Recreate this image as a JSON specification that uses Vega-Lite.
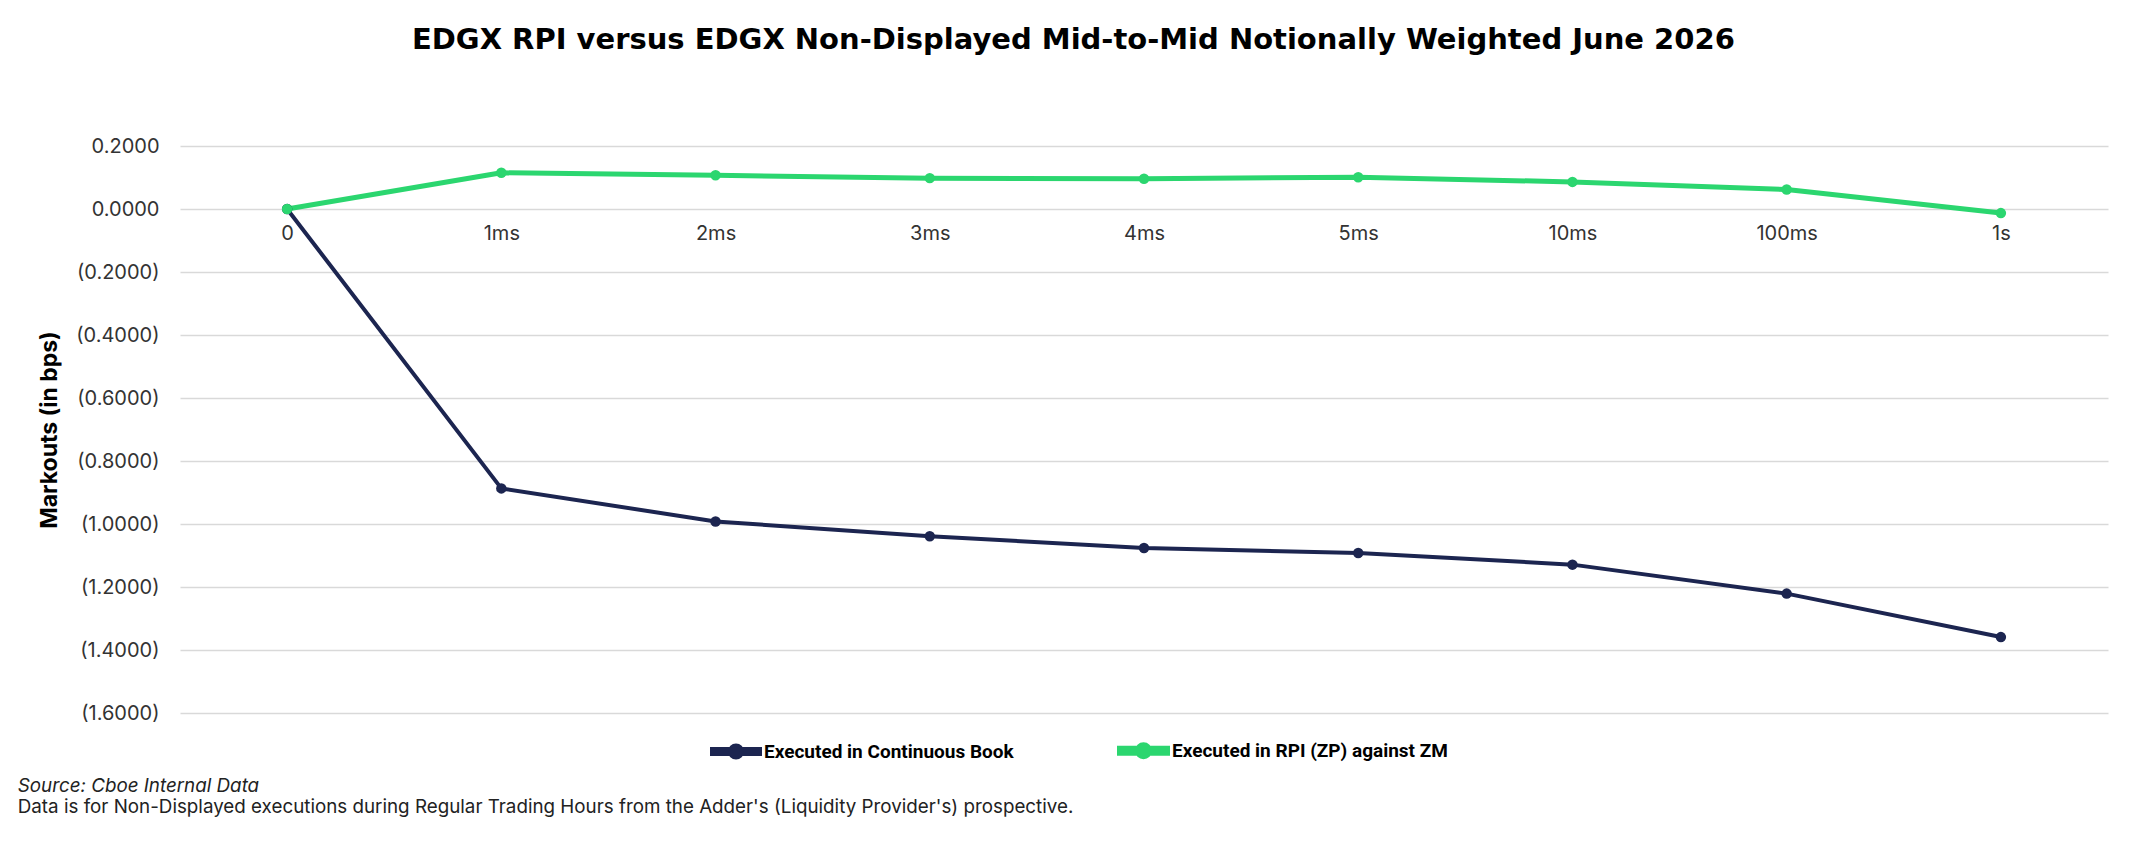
{
  "$schema": "https://vega.github.io/schema/vega-lite/v6.json",
  "background": "white",
  "padding": {"left": 17, "top": 26, "right": 36, "bottom": 28},
  "title": {
    "text": "Source: Cboe Internal Data",
    "subtitle": "Data is for Non-Displayed executions during Regular Trading Hours from the Adder's (Liquidity Provider's) prospective.",
    "orient": "bottom",
    "anchor": "start",
    "frame": "bounds",
    "dx": -21,
    "offset": 10,
    "font": "Inter",
    "fontSize": 18.8,
    "fontStyle": "italic",
    "fontWeight": "normal",
    "color": "#222222",
    "subtitleFont": "Inter",
    "subtitleFontSize": 18.8,
    "subtitleColor": "#222222",
    "subtitlePadding": 2
  },
  "vconcat": [
    {
      "title": {
        "text": "EDGX RPI versus EDGX Non-Displayed Mid-to-Mid Notionally Weighted June 2026",
        "anchor": "middle",
        "frame": "bounds",
        "font": "DejaVu Sans",
        "fontSize": 29,
        "fontWeight": "bold",
        "color": "#000000",
        "offset": 81
      },
      "width": 1928,
      "height": 567,
      "data": {
        "values": [
          {"t": "0", "series": "Executed in Continuous Book", "v": 0},
          {"t": "1ms", "series": "Executed in Continuous Book", "v": -0.887},
          {"t": "2ms", "series": "Executed in Continuous Book", "v": -0.992},
          {"t": "3ms", "series": "Executed in Continuous Book", "v": -1.039},
          {"t": "4ms", "series": "Executed in Continuous Book", "v": -1.076},
          {"t": "5ms", "series": "Executed in Continuous Book", "v": -1.092},
          {"t": "10ms", "series": "Executed in Continuous Book", "v": -1.129},
          {"t": "100ms", "series": "Executed in Continuous Book", "v": -1.221},
          {"t": "1s", "series": "Executed in Continuous Book", "v": -1.359},
          {"t": "0", "series": "Executed in RPI (ZP) against ZM", "v": 0},
          {"t": "1ms", "series": "Executed in RPI (ZP) against ZM", "v": 0.115},
          {"t": "2ms", "series": "Executed in RPI (ZP) against ZM", "v": 0.107},
          {"t": "3ms", "series": "Executed in RPI (ZP) against ZM", "v": 0.098},
          {"t": "4ms", "series": "Executed in RPI (ZP) against ZM", "v": 0.096},
          {"t": "5ms", "series": "Executed in RPI (ZP) against ZM", "v": 0.101},
          {"t": "10ms", "series": "Executed in RPI (ZP) against ZM", "v": 0.086},
          {"t": "100ms", "series": "Executed in RPI (ZP) against ZM", "v": 0.062},
          {"t": "1s", "series": "Executed in RPI (ZP) against ZM", "v": -0.013}
        ]
      },
      "encoding": {
        "x": {
          "field": "t",
          "type": "ordinal",
          "sort": ["0", "1ms", "2ms", "3ms", "4ms", "5ms", "10ms", "100ms", "1s"],
          "scale": {"type": "point", "padding": 0.5},
          "axis": {
            "title": null,
            "offset": -504,
            "domain": false,
            "ticks": false,
            "grid": false,
            "labelAngle": 0,
            "labelPadding": 14,
            "labelFontSize": 20,
            "labelColor": "#333333"
          }
        },
        "y": {
          "field": "v",
          "type": "quantitative",
          "scale": {"domain": [-1.6, 0.2], "nice": false, "zero": false},
          "axis": {
            "title": "Markouts (in bps)",
            "titleFontSize": 23,
            "titleFontWeight": "bold",
            "titleColor": "#000000",
            "titlePadding": 14,
            "values": [-1.6, -1.4, -1.2, -1.0, -0.8, -0.6, -0.4, -0.2, 0, 0.2],
            "labelExpr": "datum.value < -0.00001 ? '(' + format(-datum.value, '.4f') + ')' : format(abs(datum.value), '.4f')",
            "labelFontSize": 20,
            "labelColor": "#333333",
            "labelPadding": 21,
            "domain": false,
            "ticks": false,
            "gridColor": "#d9d9d9",
            "gridWidth": 1.5
          }
        },
        "color": {
          "field": "series",
          "type": "nominal",
          "scale": {
            "domain": ["Executed in Continuous Book", "Executed in RPI (ZP) against ZM"],
            "range": ["#1c2550", "#2bd66f"]
          },
          "legend": {
            "title": null,
            "orient": "none",
            "legendX": 530,
            "legendY": 578,
            "direction": "horizontal",
            "symbolType": "M-1,-0.1L1,-0.1L1,0.1L-1,0.1Z M-0.25,0A0.25,0.25 0 1,1 0.25,0A0.25,0.25 0 1,1 -0.25,0Z",
            "symbolSize": 2304,
            "symbolStrokeWidth": 0,
            "labelFont": "Roboto",
            "labelFontWeight": "bold",
            "labelFontSize": 19,
            "labelColor": "#000000",
            "labelLimit": 1000,
            "labelOffset": 2,
            "columnPadding": 95,
            "encode": {
              "symbols": {
                "update": {
                  "fill": {"signal": "datum.value === 'Executed in Continuous Book' ? '#1c2550' : '#2bd66f'"},
                  "strokeWidth": {"value": 0}
                }
              }
            }
          }
        }
      },
      "layer": [
        {
          "mark": {"type": "line", "strokeJoin": "round"},
          "encoding": {
            "strokeWidth": {
              "field": "series",
              "type": "nominal",
              "scale": {
                "domain": ["Executed in Continuous Book", "Executed in RPI (ZP) against ZM"],
                "range": [4, 5]
              },
              "legend": null
            }
          }
        },
        {
          "mark": {"type": "point", "filled": true, "opacity": 1, "size": 110},
          "encoding": {}
        }
      ]
    }
  ],
  "config": {
    "font": "Inter",
    "view": {"stroke": null}
  }
}
